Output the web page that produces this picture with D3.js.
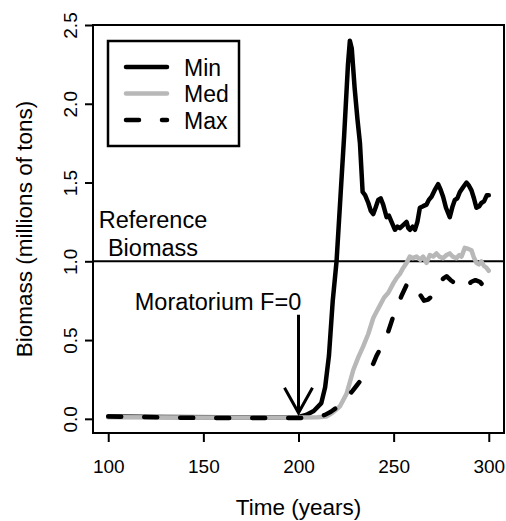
<!DOCTYPE html>
<html>
<head>
<meta charset="utf-8">
<script src="https://cdn.jsdelivr.net/npm/d3@7"></script>
<style>
  body { margin: 0; background: #fff; }
  text { font-family: "Liberation Sans", Arial, sans-serif; fill: #000; }
</style>
</head>
<body>
<div id="chart"></div>
<script>
// series (year, biomass in millions of tons)
const minYears = [100,130,160,190,200,204,208,212,214,216,218,220,222,224,226,227,228,229.5,231,232.3,233.7,235,236.7,238,239.3,240.5,241.9,243.2,244.5,246.3,247.5,248.9,250.7,252,253.3,255,256.8,257.7,258.6,260,261.2,262.5,263.8,265.5,267.3,268.5,269.9,271.5,273.4,274.5,276,277.5,279.5,281,282.2,283.5,284.8,286.5,288.3,289.6,290.9,292.2,293.5,295,296.1,297.5,299,300];
const minVals  = [0.015,0.012,0.01,0.01,0.012,0.025,0.05,0.1,0.2,0.4,0.75,1.0,1.4,1.8,2.25,2.4,2.35,2.1,1.9,1.75,1.44,1.42,1.37,1.32,1.30,1.34,1.39,1.40,1.36,1.28,1.29,1.25,1.20,1.22,1.21,1.23,1.25,1.21,1.20,1.22,1.20,1.25,1.34,1.35,1.36,1.39,1.41,1.45,1.49,1.46,1.41,1.34,1.28,1.35,1.39,1.40,1.44,1.47,1.50,1.48,1.45,1.40,1.34,1.35,1.37,1.38,1.42,1.42];

const medYears = [100,150,200,210,214.8,218,221.8,225.3,228.8,231.4,234,236.7,239.3,241,242.8,245,247.2,249.8,251.6,253.3,255,256.8,258.5,260,262,264,265.5,267.3,269,270.8,272.5,274,276,277.8,279.5,281,283,284.5,285.7,287.4,289,290.9,292,293.5,294.8,296.1,297.5,298.7,300];
const medVals  = [0.01,0.008,0.008,0.01,0.015,0.04,0.08,0.16,0.31,0.39,0.46,0.54,0.64,0.68,0.72,0.77,0.80,0.86,0.895,0.92,0.958,0.99,1.03,1.02,1.03,1.01,1.03,0.99,1.04,1.03,1.05,1.03,1.02,1.04,1.05,1.03,1.02,1.04,1.03,1.085,1.08,1.07,1.03,0.99,0.98,1.0,0.97,0.96,0.94];

const maxYears = [100,150,200,206,210,213.9,217,220.9,224,227.9,230.5,233.1,236,239.3,241,242.8,245,247.2,249.8,252,254.1,256.8,258.5,260.3,262,263.8,266,268.1,270.3,272.5,274.5,276,277.8,280,282.2,284.5,286.5,288.5,290.9,293,295.3,297.4,299,300];
const maxVals  = [0.015,0.005,0.005,0.008,0.012,0.025,0.045,0.078,0.12,0.17,0.21,0.25,0.30,0.35,0.40,0.44,0.50,0.555,0.65,0.71,0.78,0.85,0.87,0.84,0.81,0.79,0.75,0.757,0.78,0.81,0.85,0.89,0.905,0.88,0.86,0.84,0.82,0.845,0.87,0.88,0.87,0.84,0.86,0.85];

const xTicks = [100,150,200,250,300];
const yTicks = [0,0.5,1,1.5,2,2.5];
const legendLabels = ["Min","Med","Max"];
const refBiomass = 1.0;
const moratoriumYear = 200;

const width = 506, height = 521;

const svg = d3.select("#chart").append("svg")
    .attr("width", width)
    .attr("height", height);

const x = d3.scaleLinear().domain([92, 308]).range([93, 504]);
const y = d3.scaleLinear().domain([-0.09, 2.5]).range([433, 25]);

// plot box
svg.append("rect")
    .attr("x", x(92)).attr("y", y(2.5))
    .attr("width", x(308) - x(92))
    .attr("height", y(-0.09) - y(2.5))
    .attr("fill", "none")
    .attr("stroke", "#000")
    .attr("stroke-width", 2);

// x axis
const xAxis = svg.append("g").attr("transform", `translate(0,${y(-0.09)})`)
    .call(d3.axisBottom(x).tickValues(xTicks).tickSize(9).tickPadding(18).tickFormat(d3.format("d")));
xAxis.select(".domain").attr("d", `M${x(100)},0H${x(300)}`).attr("stroke-width", 2);
xAxis.selectAll(".tick line").attr("stroke-width", 2);
xAxis.selectAll("text").attr("font-size", 19).attr("font-family", "Liberation Sans, Arial, sans-serif").attr("dy", "0.71em");

// y axis
const yAxis = svg.append("g").attr("transform", `translate(${x(92)},0)`)
    .call(d3.axisLeft(y).tickValues(yTicks).tickSize(8).tickFormat(d3.format(".1f")));
yAxis.select(".domain").attr("d", `M0,${y(0)}V${y(2.5)}`).attr("stroke-width", 2);
yAxis.selectAll(".tick line").attr("stroke-width", 2);
yAxis.selectAll(".tick text")
    .attr("font-size", 19)
    .attr("font-family", "Liberation Sans, Arial, sans-serif")
    .attr("x", null).attr("dy", null)
    .attr("text-anchor", "middle")
    .attr("transform", "translate(-16,0) rotate(-90)");

// axis titles
svg.append("text")
    .attr("x", (x(92) + x(308)) / 2)
    .attr("y", 515)
    .attr("text-anchor", "middle")
    .attr("font-size", 22.5)
    .text("Time (years)");

svg.append("text")
    .attr("transform", `translate(32,${(y(-0.09) + y(2.5)) / 2}) rotate(-90)`)
    .attr("text-anchor", "middle")
    .attr("font-size", 22.5)
    .text("Biomass (millions of tons)");

// reference line
svg.append("line")
    .attr("x1", x(92)).attr("x2", x(308))
    .attr("y1", y(refBiomass)).attr("y2", y(refBiomass))
    .attr("stroke", "#000").attr("stroke-width", 2);

const ref = svg.append("text")
    .attr("text-anchor", "middle")
    .attr("font-size", 23.5);
ref.append("tspan").attr("x", 153).attr("y", 228).text("Reference");
ref.append("tspan").attr("x", 153).attr("y", 256).text("Biomass");

// series
const line = d3.line().x(d => x(d[0])).y(d => y(d[1]));
const series = [
  {name: "Min", years: minYears, vals: minVals, color: "#000", dash: null},
  {name: "Med", years: medYears, vals: medVals, color: "#b8b8b8", dash: null},
  {name: "Max", years: maxYears, vals: maxVals, color: "#000", dash: "13,23"}
];

series.forEach(s => {
  svg.append("path")
      .datum(s.years.map((t, i) => [t, s.vals[i]]))
      .attr("d", line)
      .attr("fill", "none")
      .attr("stroke", s.color)
      .attr("stroke-width", 4.5)
      .attr("stroke-linejoin", "round")
      .attr("stroke-linecap", "round")
      .attr("stroke-dasharray", s.dash);
});

// moratorium annotation
svg.append("text")
    .attr("x", 218).attr("y", 310)
    .attr("text-anchor", "middle")
    .attr("font-size", 23.5)
    .text("Moratorium F=0");

const tipY = y(0) - 6;
svg.append("path")
    .attr("d", `M${x(moratoriumYear)},${tipY - 98}V${tipY}M${x(moratoriumYear) - 14},${tipY - 25}L${x(moratoriumYear)},${tipY}L${x(moratoriumYear) + 14},${tipY - 25}`)
    .attr("fill", "none")
    .attr("stroke", "#000")
    .attr("stroke-width", 3);

// legend
const legend = svg.append("g");
legend.append("rect")
    .attr("x", 108).attr("y", 41)
    .attr("width", 131).attr("height", 105)
    .attr("fill", "#fff")
    .attr("stroke", "#000")
    .attr("stroke-width", 2.5);

series.forEach((s, i) => {
  const ry = 67 + i * 26.5;
  legend.append("line")
      .attr("x1", 126).attr("x2", 167)
      .attr("y1", ry).attr("y2", ry)
      .attr("stroke", s.color)
      .attr("stroke-width", 4.5)
      .attr("stroke-linecap", "round")
      .attr("stroke-dasharray", s.dash);
  legend.append("text")
      .attr("x", 184).attr("y", ry + 8.5)
      .attr("font-size", 23)
      .text(legendLabels[i]);
});
</script>
</body>
</html>
